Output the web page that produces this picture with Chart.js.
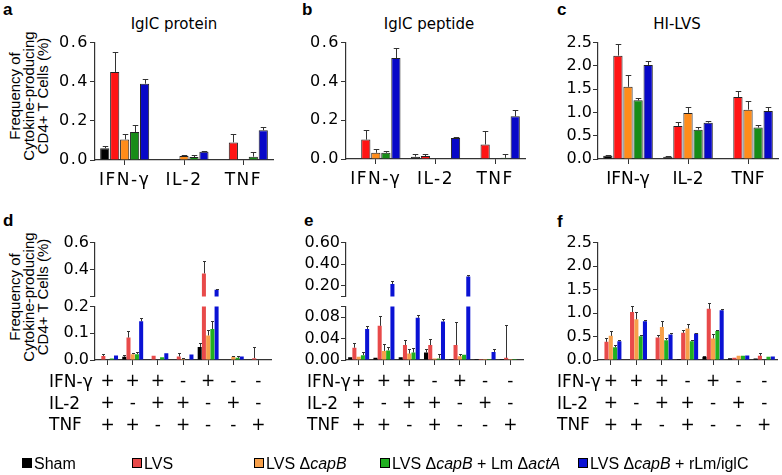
<!DOCTYPE html>
<html>
<head>
<meta charset="utf-8">
<script src="https://cdn.jsdelivr.net/npm/chart.js@4.4.0/dist/chart.umd.min.js"></script>
<style>
  body { margin: 0; width: 782px; height: 475px; background: #fff; position: relative; overflow: hidden; font-family: "DejaVu Sans", sans-serif; }
  canvas { position: absolute; }
  .t { position: absolute; white-space: nowrap; color: #000; line-height: 1; }
  .letter { font-family: "Liberation Sans", Arial, sans-serif; font-weight: bold; font-size: 17px; }
  .title { font-size: 15px; transform: translateX(-50%); }
  .ytitle { font-family: "Liberation Sans", Arial, sans-serif; font-size: 15px; line-height: 14px; text-align: center; width: 180px; transform: rotate(-90deg); }
  .row { font-size: 17px; }
  .leg { position: absolute; top: 455px; font-family: "Liberation Sans", Arial, sans-serif; font-size: 16px; white-space: nowrap; }
  .sq { position: absolute; width: 8px; height: 8px; border: 1px solid #000; top: 458px; }
</style>
</head>
<body>

<div class="t letter" style="left:3px;top:1px">a</div>
<div class="t letter" style="left:302px;top:1px">b</div>
<div class="t letter" style="left:557px;top:1px">c</div>
<div class="t letter" style="left:3px;top:212px">d</div>
<div class="t letter" style="left:304px;top:212px">e</div>
<div class="t letter" style="left:557px;top:213px">f</div>

<div class="t title" style="left:174px;top:17px">IglC protein</div>
<div class="t title" style="left:429px;top:17px">IglC peptide</div>
<div class="t title" style="left:677px;top:17px">HI-LVS</div>

<div class="t ytitle" style="left:-61px;top:75px">Frequency of<br>Cytokine-producing<br>CD4+ T Cells (%)</div>
<div class="t ytitle" style="left:-61px;top:276px">Frequency of<br>Cytokine-producing<br>CD4+ T Cells (%)</div>

<script>
// categories
const cytokines = ['IFN-γ', 'IL-2', 'TNF'];
const groupNames = ['Sham', 'LVS', 'LVS ΔcapB', 'LVS ΔcapB + Lm ΔactA', 'LVS ΔcapB + rLm/iglC'];
const rowNames = ['IFN-γ', 'IL-2', 'TNF'];
const rowIFN = ['+', '+', '+', '-', '+', '-', '-'];
const rowIL2 = ['+', '-', '+', '+', '-', '+', '-'];
const rowTNF = ['+', '+', '-', '+', '-', '-', '+'];

// a: IglC protein (rows = Sham, LVS, capB, capB+Lm, capB+rLm)
const aMean = [[0.06, 0, 0], [0.45, 0, 0.09], [0.105, 0.02, 0], [0.143, 0.015, 0.017], [0.39, 0.042, 0.152]];
const aErr = [[0.012, 0, 0], [0.10, 0, 0.045], [0.03, 0.005, 0], [0.035, 0.013, 0.025], [0.022, 0.002, 0.018]];

// b: IglC peptide
const bMean = [[0, 0.012, 0], [0.1, 0.015, 0.075], [0.032, 0, 0], [0.032, 0, 0.006], [0.52, 0.108, 0.22]];
const bErr = [[0, 0.013, 0], [0.052, 0.013, 0.067], [0.02, 0, 0], [0.01, 0, 0.02], [0.053, 0.003, 0.035]];

// c: HI-LVS
const cMean = [[0.07, 0.05, -0.02], [2.22, 0.71, 1.33], [1.55, 0.99, 1.06], [1.26, 0.63, 0.675], [2.02, 0.78, 1.03]];
const cErr = [[0.01, 0.005, 0], [0.26, 0.085, 0.13], [0.26, 0.125, 0.18], [0.04, 0.06, 0.06], [0.09, 0.04, 0.08]];

// d: IglC protein, combinations
const dMean = [
  [0, 0.012, 0, 0, 0.049, 0, 0],
  [0.015, 0.084, 0.016, 0.013, 0.371, 0, 0.007],
  [0.002, 0.022, 0, 0.004, 0.092, 0.012, 0],
  [0.006, 0.022, 0.01, 0.002, 0.116, 0.008, 0],
  [0.017, 0.145, 0.025, 0.021, 0.25, 0.013, 0]
];
const dErr = [
  [0, 0.008, 0, 0, 0.015, 0, 0],
  [0.006, 0.023, 0, 0.014, 0.089, 0, 0.04],
  [0, 0.003, 0, 0.003, 0.022, 0.004, 0],
  [0, 0.007, 0, 0, 0.031, 0.008, 0],
  [0, 0.012, 0, 0, 0.007, 0, 0]
];

// e: IglC peptide, combinations
const eMean = [
  [0.005, 0.004, 0.005, 0.014, 0.002, 0.002, 0.002],
  [0.023, 0.064, 0.028, 0.028, 0.028, 0.002, 0.004],
  [0.006, 0.017, 0.012, 0.003, 0.007, 0.002, 0.002],
  [0.009, 0.018, 0.014, 0.003, 0.01, 0.002, 0.002],
  [0.058, 0.215, 0.079, 0.072, 0.284, 0.015, 0]
];
const eErr = [
  [0, 0, 0, 0.007, 0, 0, 0],
  [0.008, 0.018, 0.01, 0.011, 0.044, 0, 0.062],
  [0, 0.013, 0.008, 0, 0.005, 0, 0],
  [0.006, 0.007, 0.009, 0.009, 0, 0, 0],
  [0.005, 0.024, 0.006, 0.004, 0.016, 0.006, 0]
];

// f: HI-LVS, combinations
const fMean = [
  [0, 0.01, 0, 0.02, 0.07, 0.035, 0.03],
  [0.387, 1.02, 0.48, 0.578, 1.09, 0.05, 0.09],
  [0.514, 0.867, 0.704, 0.67, 0.458, 0.09, 0.01],
  [0.27, 0.507, 0.423, 0.4, 0.62, 0.09, 0.07],
  [0.4, 0.824, 0.543, 0.563, 1.057, 0.095, 0.075]
];
const fErr = [
  [0, 0, 0, 0, 0.01, 0, 0],
  [0.073, 0.14, 0.063, 0.07, 0.13, 0, 0.05],
  [0.096, 0.153, 0.12, 0.105, 0.1, 0, 0],
  [0.04, 0.023, 0.037, 0.035, 0.028, 0, 0],
  [0.02, 0.036, 0.037, 0.022, 0.033, 0, 0]
];

// tick labels
const ticks06 = [0, 0.2, 0.4, 0.6];
const ticks06Labels = ['0.0', '0.2', '0.4', '0.6'];
const ticks25 = [0, 0.5, 1, 1.5, 2, 2.5];
const ticks25Labels = ['0.0', '0.5', '1.0', '1.5', '2.0', '2.5'];
const dLowTicks = [0, 0.1, 0.2];
const dLowLabels = ['0.0', '0.1', '0.2'];
const dHighTicks = [0.2, 0.4, 0.6];
const dHighLabels = ['', '0.4', '0.6'];
const eLowTicks = [0, 0.04, 0.08, 0.1];
const eLowLabels = ['0.00', '0.04', '0.08', ''];
const eHighTicks = [0.1, 0.2, 0.4, 0.6];
const eHighLabels = ['', '0.20', '0.40', '0.60'];

const topColors = ['#000000', '#ff1414', '#ff8c1a', '#178c17', '#0808c8'];
const botColors = ['#000000', '#e84a4a', '#f7a04a', '#20b020', '#0a12d4'];

const comboLabels = rowIFN.map((v, i) => [v, rowIL2[i], rowTNF[i]]);

Chart.defaults.font.family = '"DejaVu Sans", sans-serif';
Chart.defaults.color = '#000';

// one-sided error bars drawn from the bar elements
const errorBars = {
  id: 'errorBars',
  afterDatasetsDraw(chart) {
    const { ctx, chartArea: a } = chart;
    ctx.save();
    ctx.beginPath();
    ctx.rect(a.left, a.top - 2, a.right - a.left, a.bottom - a.top + 2);
    ctx.clip();
    ctx.strokeStyle = '#333';
    ctx.lineWidth = 1;
    chart.data.datasets.forEach((ds, i) => {
      const meta = chart.getDatasetMeta(i);
      const ys = chart.scales[meta.yAxisID];
      meta.data.forEach((bar, j) => {
        const e = ds.errors[j];
        if (!e) return;
        const v = ds.data[j];
        const y0 = ys.getPixelForValue(v);
        const y1 = Math.round(ys.getPixelForValue(v + e)) + 0.5;
        const hw = Math.max(1.5, bar.width * 0.3);
        const x = Math.round(bar.x) + 0.5;
        ctx.beginPath();
        ctx.moveTo(x, y0);
        ctx.lineTo(x, y1);
        ctx.moveTo(x - hw, y1);
        ctx.lineTo(x + hw, y1);
        ctx.stroke();
      });
    });
    ctx.restore();
  }
};

// wider letter spacing used by the text of panels a and b
const spacedText = {
  id: 'spacedText',
  beforeDraw(chart, args, opts) {
    if (opts.spacing) chart.ctx.letterSpacing = opts.spacing;
  }
};

const yW = 50, padR = 4, padT = 10;

function addChart(o) {
  const padB = o.xHeight ? 0 : 10;
  const cv = document.createElement('canvas');
  cv.width = yW + (o.right - o.left) + padR;
  cv.height = padT + (o.bottom - o.top) + (o.xHeight || padB);
  cv.style.left = (o.left - yW) + 'px';
  cv.style.top = (o.top - padT) + 'px';
  document.body.appendChild(cv);
  new Chart(cv, {
    type: 'bar',
    data: {
      labels: o.labels,
      datasets: o.mean.map((m, i) => ({
        label: groupNames[i],
        data: m,
        errors: o.err[i],
        backgroundColor: o.colors[i],
        borderColor: '#222',
        borderWidth: o.bw,
        barPercentage: o.barPct,
        categoryPercentage: o.catPct,
        clip: o.clip ? 0 : undefined
      }))
    },
    options: {
      responsive: false,
      animation: false,
      devicePixelRatio: 1,
      layout: { padding: { top: padT, right: padR, bottom: padB, left: 0 } },
      plugins: { legend: { display: false }, tooltip: { enabled: false }, spacedText: { spacing: o.spacing } },
      scales: {
        x: {
          display: !!o.xHeight,
          offset: true,
          grid: { drawOnChartArea: false, offset: false, tickLength: 5, color: '#333' },
          border: { color: '#333', width: 1.2 },
          ticks: { autoSkip: false, maxRotation: 0, padding: o.xPad || 0, font: o.xFont, color: '#000' },
          afterFit: s => { if (o.xHeight) s.height = o.xHeight; }
        },
        y: {
          min: o.min,
          max: o.max,
          grid: { drawOnChartArea: false, tickLength: 5, color: '#333' },
          border: { color: '#333', width: 1.2 },
          ticks: { autoSkip: false, font: { size: 16 }, color: '#000', padding: 1, callback: (v, i) => o.tickLabels[i] },
          afterBuildTicks: s => { s.ticks = o.ticks.map(v => ({ value: v })); },
          afterFit: s => { s.width = yW; }
        }
      }
    },
    plugins: [errorBars, spacedText]
  });
}

const topX = { xHeight: 35, xPad: 5, xFont: { size: 17 }, bw: 1, barPct: 0.92, catPct: 0.84, colors: topColors, labels: cytokines };
const botX = { xHeight: 80, xPad: 6, xFont: { size: 17, lineHeight: '21.7px' }, bw: 0, barPct: 0.95, catPct: 0.84, colors: botColors, labels: comboLabels };
const brokenTop = { bw: 0, barPct: 0.95, catPct: 0.84, colors: botColors, labels: comboLabels, clip: true };

// top row
addChart({ ...topX, spacing: '1.5px', left: 95, right: 273, top: 42, bottom: 160, mean: aMean, err: aErr, min: 0, max: 0.6, ticks: ticks06, tickLabels: ticks06Labels });
addChart({ ...topX, spacing: '1.5px', left: 346, right: 525, top: 42, bottom: 159, mean: bMean, err: bErr, min: 0, max: 0.6, ticks: ticks06, tickLabels: ticks06Labels });
addChart({ ...topX, left: 598, right: 778, top: 42, bottom: 159, mean: cMean, err: cErr, min: 0, max: 2.5, ticks: ticks25, tickLabels: ticks25Labels });

// d: broken axis
addChart({ ...brokenTop, left: 95, right: 271, top: 242, bottom: 297, mean: dMean, err: dErr, min: 0.2, max: 0.6, ticks: dHighTicks, tickLabels: dHighLabels });
addChart({ ...botX, clip: true, left: 95, right: 271, top: 306, bottom: 360, mean: dMean, err: dErr, min: 0, max: 0.2, ticks: dLowTicks, tickLabels: dLowLabels });

// e: broken axis
addChart({ ...brokenTop, left: 346, right: 523, top: 242, bottom: 297, mean: eMean, err: eErr, min: 0.1, max: 0.6, ticks: eHighTicks, tickLabels: eHighLabels });
addChart({ ...botX, clip: true, left: 346, right: 523, top: 306, bottom: 360, mean: eMean, err: eErr, min: 0, max: 0.1, ticks: eLowTicks, tickLabels: eLowLabels });

// f
addChart({ ...botX, left: 598, right: 777, top: 242, bottom: 360, mean: fMean, err: fErr, min: 0, max: 2.5, ticks: ticks25, tickLabels: ticks25Labels });

// row headers of the +/- tables
[49, 307, 557].forEach(x => {
  rowNames.forEach((name, r) => {
    const d = document.createElement('div');
    d.className = 't row';
    d.style.left = x + 'px';
    d.style.top = (373 + r * 21.7) + 'px';
    d.textContent = name;
    document.body.appendChild(d);
  });
});

// legend
const legendX = [22, 132, 254, 380, 578];
const legendHtml = ['Sham', 'LVS', 'LVS Δ<i>capB</i>', 'LVS Δ<i>capB</i> + Lm Δ<i>actA</i>', 'LVS Δ<i>capB</i> + rLm/iglC'];
legendX.forEach((x, i) => {
  const sq = document.createElement('div');
  sq.className = 'sq';
  sq.style.left = x + 'px';
  sq.style.background = botColors[i];
  document.body.appendChild(sq);
  const tx = document.createElement('div');
  tx.className = 'leg';
  tx.style.left = (x + 12) + 'px';
  tx.innerHTML = legendHtml[i];
  document.body.appendChild(tx);
});
</script>
</body>
</html>
